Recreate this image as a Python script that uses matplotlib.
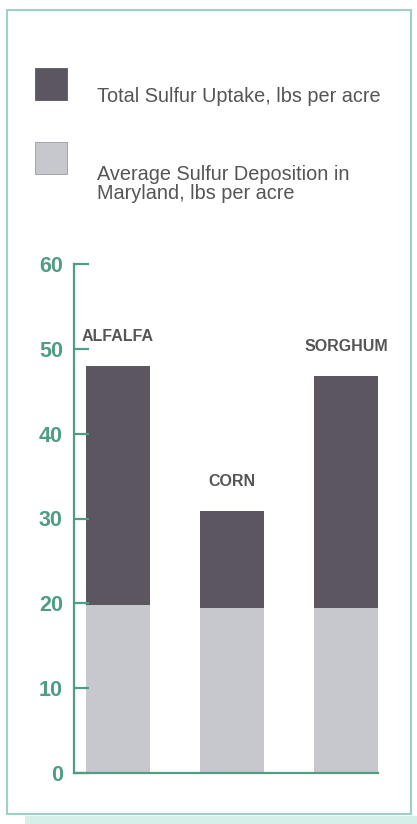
import matplotlib
matplotlib.use("Agg")
import matplotlib.pyplot as plt
import matplotlib.patches as mpatches
from matplotlib import font_manager

crops = ["ALFALFA", "CORN", "SORGHUM"]
total_uptake = [48.0, 30.9, 46.8]
deposition = [19.8, 19.5, 19.5]
yticks = [0, 10, 20, 30, 40, 50, 60]
legend_labels = ["Total Sulfur Uptake, lbs per acre",
                 "Average Sulfur Deposition in\nMaryland, lbs per acre"]

DARK = "#5b5660"
LIGHT = "#c7c8cd"
GREEN = "#4f9d82"
FRAME = "#9fd0c5"
TEXT = "#555555"
REG = ["Liberation Sans", "DejaVu Sans"]

# a narrow face for the bold labels if one is installed
installed = {f.name for f in font_manager.fontManager.ttflist}
if "Liberation Sans Narrow" in installed:
    NARROW, crop_size = ["Liberation Sans Narrow", "DejaVu Sans"], 12.5
else:
    NARROW, crop_size = ["Liberation Sans", "DejaVu Sans"], 11.5

W, H = 417, 824
fig = plt.figure(figsize=(W / 100, H / 100), dpi=100)


def px(x0, y0, x1, y1):
    # pixel box (top-left origin) -> figure fraction rect
    return (x0 / W, 1 - y1 / H, (x1 - x0) / W, (y1 - y0) / H)


# outer frame and the pale strip under it
l, b, w, h = px(7, 10, 411, 814)
fig.patches.append(mpatches.Rectangle((l, b), w, h, transform=fig.transFigure,
                                      fill=False, edgecolor=FRAME, lw=1.5))
l, b, w, h = px(25, 816, 417, 824)
fig.patches.append(mpatches.Rectangle((l, b), w, h, transform=fig.transFigure,
                                      facecolor="#d6efe9", edgecolor="none"))

# legend
for (y0, col, ec) in [(68, DARK, DARK), (142, LIGHT, "#9a9aa0")]:
    l, b, w, h = px(35, y0, 67, y0 + 32)
    fig.patches.append(mpatches.Rectangle((l, b), w, h, transform=fig.transFigure,
                                          facecolor=col, edgecolor=ec, lw=0.6))
fig.text(97 / W, 1 - 96 / H, legend_labels[0], color=TEXT, fontsize=14.3,
         family=REG, va="center", ha="left")
fig.text(97 / W, 1 - 184 / H, legend_labels[1], color=TEXT, fontsize=14.3,
         family=REG, va="center", ha="left", linespacing=1.05)

ax = fig.add_axes(px(74, 264, 378, 773))
x = range(len(crops))
width = 0.56
upper = [t - d for t, d in zip(total_uptake, deposition)]
ax.bar(x, deposition, width=width, color=LIGHT)
ax.bar(x, upper, width=width, bottom=deposition, color=DARK)

for i, name in enumerate(crops):
    ax.annotate(name, (i, total_uptake[i]), xytext=(0, 21), textcoords="offset points",
                ha="center", va="center", fontsize=crop_size, fontweight="bold",
                family=NARROW, color=TEXT)

ax.set_xlim(-0.386, 2.281)
ax.set_ylim(0, 60)
ax.set_yticks(yticks)
ax.set_xticks([])
for s in ["top", "right"]:
    ax.spines[s].set_visible(False)
for s in ["left", "bottom"]:
    ax.spines[s].set_color(GREEN)
    ax.spines[s].set_linewidth(1.6)
ax.tick_params(axis="y", direction="in", length=11, width=1.6, color=GREEN,
               labelcolor=GREEN, labelsize=15.5, pad=8)
for t in ax.get_yticklabels():
    t.set_fontweight("bold")
    t.set_family(REG)
ax.patch.set_alpha(0)

fig.savefig("out.png", dpi=100)
